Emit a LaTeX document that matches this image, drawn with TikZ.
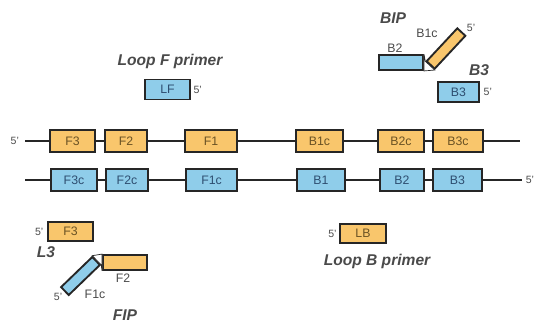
\documentclass[tikz,border=0pt]{standalone}
\usepackage{fontspec}
\setmainfont{Liberation Sans}
\usepackage{tikz}
\usetikzlibrary{positioning}
\definecolor{primorange}{HTML}{F9C66C}
\definecolor{primblue}{HTML}{8FCDEA}
\definecolor{boxline}{HTML}{262626}
\definecolor{labgray}{HTML}{4A4A4A}
\definecolor{otext}{HTML}{6A5224}
\definecolor{btext}{HTML}{2E4E70}
\tikzstyle{strand} = [line width=1.6pt, draw=boxline]
\tikzstyle{notch} = [line width=0.6pt, draw=boxline, fill=white]

\begin{document}
\begin{tikzpicture}[x=0.03cm, y=-0.03cm,
    seg/.style={draw=boxline, line width=1.6pt, inner sep=0pt, minimum height=0.64cm, font=\fontsize{10.5}{11}\selectfont},
    oseg/.style={seg, fill=primorange, text=otext},
    bseg/.style={seg, fill=primblue, text=btext},
    prime/.style={inner sep=1pt, text=labgray, font=\fontsize{9}{10}\selectfont},
    tag/.style={inner sep=0pt, text=labgray, font=\fontsize{10.5}{11}\selectfont},
    title/.style={inner sep=0pt, text=labgray, font=\fontsize{13.3}{15}\selectfont\bfseries\itshape}
  ]
  \useasboundingbox (0,0) rectangle (537,322);

  % top strand
  \coordinate (t5) at (25,141);
  \coordinate (tend) at (520,141);
  \node[oseg, minimum width=1.35cm] (F3) at (72.5,141) {F3};
  \node[oseg, minimum width=1.26cm] (F2) at (126,141) {F2};
  \node[oseg, minimum width=1.56cm] (F1) at (211,141) {F1};
  \node[oseg, minimum width=1.41cm] (B1c) at (319.5,141) {B1c};
  \node[oseg, minimum width=1.38cm] (B2c) at (401,141) {B2c};
  \node[oseg, minimum width=1.50cm] (B3c) at (458,141) {B3c};
  \draw[strand] (t5) -- (F3) -- (F2) -- (F1) -- (B1c) -- (B2c) -- (B3c) -- (tend);
  \node[prime, left=4pt of t5] (t5lab) {5'};

  % bottom strand
  \coordinate (b3) at (25,180);
  \coordinate (b5) at (522,180);
  \node[bseg, minimum width=1.38cm] (F3c) at (74,180) {F3c};
  \node[bseg, minimum width=1.26cm] (F2c) at (127,180) {F2c};
  \node[bseg, minimum width=1.53cm] (F1c) at (211.5,180) {F1c};
  \node[bseg, minimum width=1.44cm] (B1) at (321,180) {B1};
  \node[bseg, minimum width=1.32cm] (B2) at (402,180) {B2};
  \node[bseg, minimum width=1.47cm] (B3) at (457.5,180) {B3};
  \draw[strand] (b3) -- (F3c) -- (F2c) -- (F1c) -- (B1) -- (B2) -- (B3) -- (b5);
  \node[prime, right=2pt of b5] (b5lab) {5'};

  % loop F primer
  \node[title] (lftitle) at (170,61) {Loop F primer};
  \node[bseg, minimum width=1.35cm, minimum height=0.6cm] (LF) at (167.5,89.5) {LF};
  \node[prime, right=1pt of LF] (lf5) {5'};

  % BIP
  \node[title] (biptitle) at (393,18) {BIP};
  \node[bseg, minimum width=1.32cm, minimum height=0.45cm] (bipB2) at (401,62.5) {};
  \node[oseg, minimum width=1.35cm, minimum height=0.33cm, rotate=47] (bipB1c) at (446,48.5) {};
  \draw[notch] (bipB2.north east) -- (bipB1c.north west) -- (bipB1c.south west) -- (bipB2.south east) -- cycle;
  \node[tag] (bipB2lab) at (395,48) {B2};
  \node[tag] (bipB1clab) at (427,33) {B1c};
  \node[prime] (bip5) at (471,28) {5'};

  % B3
  \node[title] (b3title) at (479,70) {B3};
  \node[bseg, minimum width=1.23cm, minimum height=0.6cm] (outB3) at (458.5,92) {B3};
  \node[prime, right=2pt of outB3] (outb35) {5'};

  % loop B primer
  \node[oseg, minimum width=1.38cm, minimum height=0.57cm] (LB) at (363,233.5) {LB};
  \node[prime, left=1pt of LB] (lb5) {5'};
  \node[title] (lbtitle) at (377,261) {Loop B primer};

  % L3
  \node[oseg, minimum width=1.35cm, minimum height=0.57cm] (outF3) at (70.5,231.5) {F3};
  \node[prime, left=2pt of outF3] (outf35) {5'};
  \node[title] (l3title) at (46,252) {L3};

  % FIP
  \node[oseg, minimum width=1.32cm, minimum height=0.45cm] (fipF2) at (125,262.5) {};
  \node[bseg, minimum width=1.3cm, minimum height=0.33cm, rotate=44] (fipF1c) at (80.5,276) {};
  \draw[notch] (fipF1c.north east) -- (fipF2.north west) -- (fipF2.south west) -- (fipF1c.south east) -- cycle;
  \node[tag] (fipF2lab) at (123,278) {F2};
  \node[tag] (fipF1clab) at (95,294) {F1c};
  \node[prime] (fip5) at (58,297) {5'};
  \node[title] (fiptitle) at (125,315) {FIP};
\end{tikzpicture}
\end{document}
